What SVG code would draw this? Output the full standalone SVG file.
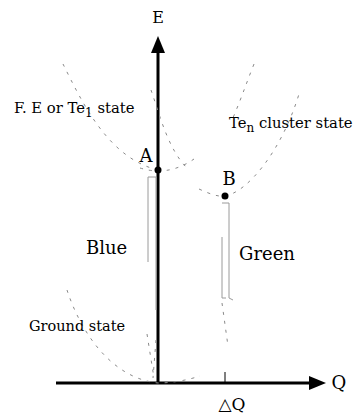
<svg xmlns="http://www.w3.org/2000/svg" width="353" height="417" viewBox="0 0 353 417">
<style>
.t{font-family:"DejaVu Serif","Liberation Serif",serif;fill:#000}
.c{fill:none;stroke:#8a8a8a;stroke-width:1;stroke-dasharray:3 6}
.b{fill:none;stroke:#9a9a9a;stroke-width:1}
.ax{stroke:#000;stroke-width:3;fill:none}
</style>
<rect width="353" height="417" fill="#fff"/>
<g id="connectors">
<path class="ax" d="M158,383 V50"/>
<polygon points="158,36 151,53 165,53" fill="#000"/>
<path class="ax" d="M56,383 H312"/>
<polygon points="326,383 309,376 309,390" fill="#000"/>
<path d="M225,372 V383" stroke="#000" stroke-width="1"/>
</g>
<g id="curves">
<path class="c" d="M63,64 C82,102 108,158 158,170"/>
<path class="c" d="M140,168 Q150,171 158,171 C172,171 184,166 194,159"/>
<path class="c" d="M151,90 C160,116 168,148 186,167"/>
<path class="c" d="M199,189 C210,194 218,197 225,196 C248,192 282,150 299,94"/>
<path class="c" d="M254,64 C246,84 240,102 232,120"/>
<path class="c" d="M67,290 C80,330 110,378 158,383 C172,383 188,380 200,376"/>
</g>
<g id="transitions">
<path class="b" d="M148,262 V177 H156 V310"/>
<path class="c" d="M147,334 L154,378 M156,340 L153,378"/>
<path class="b" d="M222,203 H229 V298 M222,237 V298 H226 M229,298 L233,300"/>
<path class="c" d="M222,303 L228,346"/>
</g>
<g id="nodeA"><circle cx="158" cy="170" r="3.5" fill="#000"/><text class="t" x="146" y="162" font-size="18" text-anchor="middle">A</text></g>
<g id="nodeB"><circle cx="225" cy="196" r="3.5" fill="#000"/><text class="t" x="229" y="185" font-size="18" text-anchor="middle">B</text></g>
<g id="labelE"><text class="t" x="158" y="23" font-size="16" text-anchor="middle">E</text></g>
<g id="labelQ"><text class="t" x="339" y="389" font-size="18" text-anchor="middle">Q</text></g>
<g id="labelDQ"><text class="t" x="232" y="410" font-size="17" text-anchor="middle">△Q</text></g>
<g id="labelFE"><text class="t" x="14" y="113" font-size="14.8">F. E or Te<tspan font-size="12" dy="4">1</tspan><tspan dy="-4"> state</tspan></text></g>
<g id="labelTen"><text class="t" x="229" y="128" font-size="14.8">Te<tspan font-size="12" dy="4">n</tspan><tspan dy="-4"> cluster state</tspan></text></g>
<g id="labelBlue"><text class="t" x="86" y="254" font-size="18">Blue</text></g>
<g id="labelGreen"><text class="t" x="239" y="260" font-size="18">Green</text></g>
<g id="labelGround"><text class="t" x="29" y="331" font-size="14.5">Ground state</text></g>
</svg>
